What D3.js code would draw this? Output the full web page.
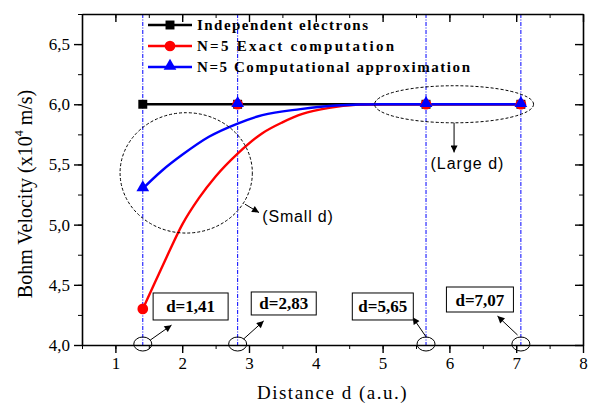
<!DOCTYPE html>
<html>
<head>
<meta charset="utf-8">
<script src="https://cdn.jsdelivr.net/npm/d3@7"></script>
<style>
  body { margin: 0; background: #fff; }
  svg text { fill: #000; }
</style>
</head>
<body>
<div id="chart"></div>
<script>
// Bohm velocity vs distance d, three series plus the four marked distances.

const marked = [1.41, 2.83, 5.65, 7.07];
const markedLabels = ['d=1,41', 'd=2,83', 'd=5,65', 'd=7,07'];

const independentV = [6.0, 6.0, 6.0, 6.0];
const exactV = [4.3, 6.0, 6.0, 6.0];
const approxV = [5.3, 6.0, 6.0, 6.0];

// smooth curves
const exactCurve = [
  [1.41, 4.30], [1.6, 4.53], [1.8, 4.77], [2.0, 5.00], [2.25, 5.22], [2.5, 5.40],
  [2.83, 5.59], [3.2, 5.76], [3.5, 5.85], [3.8, 5.92], [4.2, 5.97], [4.6, 5.995],
  [5.0, 6.0], [5.65, 6.0], [7.07, 6.0]
];
const approxCurve = [
  [1.41, 5.30], [1.7, 5.45], [2.0, 5.58], [2.4, 5.73], [2.83, 5.84], [3.2, 5.91],
  [3.77, 5.96], [4.3, 5.99], [5.0, 6.0], [5.65, 6.0], [7.07, 6.0]
];

const xTicks = [1, 2, 3, 4, 5, 6, 7, 8];
const yTicks = [4.0, 4.5, 5.0, 5.5, 6.0, 6.5];

const seriesNames = ['Independent electrons', 'N=5 Exact computation', 'N=5 Computational approximation'];

const width = 590;
const height = 404;
const margin = { top: 14, right: 7, bottom: 59, left: 82 };
const serif = '"Liberation Serif", "Times New Roman", serif';
const sans = '"Liberation Sans", Arial, sans-serif';

const svg = d3.select('#chart').append('svg').attr('width', width).attr('height', height);

const x = d3.scaleLinear().domain([0.5, 8]).range([margin.left, width - margin.right]);
const y = d3.scaleLinear().domain([4.0, 6.75]).range([height - margin.bottom, margin.top]);

const fmt = (d) => d3.format('.1f')(d).replace('.', ',');
const minorX = d3.range(0.5, 8.01, 0.5);
const minorY = d3.range(4.0, 6.76, 0.25);

// vertical markers at the chosen distances
svg
  .selectAll('line.marker-line')
  .data(marked)
  .join('line')
  .attr('x1', (d) => x(d))
  .attr('x2', (d) => x(d))
  .attr('y1', y(6.75))
  .attr('y2', y(4.0))
  .attr('stroke', '#0000ff')
  .attr('stroke-width', 1)
  .attr('stroke-dasharray', '4,1.5,1,1.5');

// axes: outward on bottom/left, inward on top/right
function styleAxis(g) {
  g.select('.domain').attr('stroke-width', 1.6);
  g.selectAll('.tick line').attr('stroke-width', 1.4);
  g.selectAll('text').attr('font-family', serif).attr('font-size', 17);
}

svg
  .append('g')
  .attr('transform', `translate(0,${y(4.0)})`)
  .call(d3.axisBottom(x).tickValues(minorX).tickSize(4).tickFormat(''))
  .call((g) => g.select('.domain').remove());
svg
  .append('g')
  .attr('transform', `translate(0,${y(4.0)})`)
  .call(d3.axisBottom(x).tickValues(xTicks).tickSize(8).tickPadding(4).tickFormat(d3.format('d')).tickSizeOuter(0))
  .call(styleAxis);

svg
  .append('g')
  .attr('transform', `translate(0,${y(6.75)})`)
  .call(d3.axisBottom(x).tickValues(minorX).tickSize(4).tickFormat(''))
  .call((g) => g.select('.domain').remove());
svg
  .append('g')
  .attr('transform', `translate(0,${y(6.75)})`)
  .call(d3.axisBottom(x).tickValues(xTicks).tickSize(8).tickFormat('').tickSizeOuter(0))
  .call(styleAxis);

svg
  .append('g')
  .attr('transform', `translate(${x(0.5)},0)`)
  .call(d3.axisLeft(y).tickValues(minorY).tickSize(4).tickFormat(''))
  .call((g) => g.select('.domain').remove());
svg
  .append('g')
  .attr('transform', `translate(${x(0.5)},0)`)
  .call(d3.axisLeft(y).tickValues(yTicks).tickSize(8).tickPadding(4).tickFormat(fmt).tickSizeOuter(0))
  .call(styleAxis);

svg
  .append('g')
  .attr('transform', `translate(${x(8)},0)`)
  .call(d3.axisLeft(y).tickValues(minorY).tickSize(4).tickFormat(''))
  .call((g) => g.select('.domain').remove());
svg
  .append('g')
  .attr('transform', `translate(${x(8)},0)`)
  .call(d3.axisLeft(y).tickValues(yTicks).tickSize(8).tickFormat('').tickSizeOuter(0))
  .call(styleAxis);

// axis titles
svg
  .append('text')
  .attr('x', (x(0.5) + x(8)) / 2)
  .attr('y', 399)
  .attr('text-anchor', 'middle')
  .attr('font-family', serif)
  .attr('font-size', 19)
  .attr('letter-spacing', 1.5)
  .text('Distance d (a.u.)');

const yTitle = svg
  .append('text')
  .attr('transform', `translate(32,194) rotate(-90)`)
  .attr('text-anchor', 'middle')
  .attr('font-family', serif)
  .attr('font-size', 20);
yTitle.append('tspan').text('Bohm Velocity (x10');
yTitle.append('tspan').attr('font-size', 12).attr('dy', -9).text('4');
yTitle.append('tspan').attr('dy', 9).text(' m/s)');

// series lines
const straight = d3.line().x((d) => x(d[0])).y((d) => y(d[1]));
const smooth = d3.line().x((d) => x(d[0])).y((d) => y(d[1])).curve(d3.curveMonotoneX);

svg
  .append('path')
  .datum(marked.map((d, i) => [d, independentV[i]]))
  .attr('fill', 'none')
  .attr('stroke', '#000')
  .attr('stroke-width', 2.4)
  .attr('d', straight);

svg
  .append('path')
  .datum(exactCurve)
  .attr('fill', 'none')
  .attr('stroke', '#ff0000')
  .attr('stroke-width', 2.4)
  .attr('d', smooth);

svg
  .append('path')
  .datum(approxCurve)
  .attr('fill', 'none')
  .attr('stroke', '#0000ff')
  .attr('stroke-width', 2.4)
  .attr('d', smooth);

// markers
const square = d3.symbol().type(d3.symbolSquare).size(80);
const circle = d3.symbol().type(d3.symbolCircle).size(90);
const triangle = d3.symbol().type(d3.symbolTriangle).size(70);

svg
  .selectAll('path.sq')
  .data(marked)
  .join('path')
  .attr('transform', (d, i) => `translate(${x(d)},${y(independentV[i])})`)
  .attr('d', square)
  .attr('fill', '#000');

svg
  .selectAll('path.ci')
  .data(marked)
  .join('path')
  .attr('transform', (d, i) => `translate(${x(d)},${y(exactV[i])})`)
  .attr('d', circle)
  .attr('fill', '#ff0000');

svg
  .selectAll('path.tr')
  .data(marked)
  .join('path')
  .attr('transform', (d, i) => `translate(${x(d)},${y(approxV[i]) - 1})`)
  .attr('d', triangle)
  .attr('fill', '#0000ff');

// legend
const legendColours = ['#000', '#ff0000', '#0000ff'];
const legendSymbols = [square, circle, triangle];
const legendWidths = [171, 197, 273];
const legend = svg.append('g');
seriesNames.forEach((name, i) => {
  const ly = 25 + i * 21;
  legend.append('line').attr('x1', 148).attr('x2', 192).attr('y1', ly).attr('y2', ly)
    .attr('stroke', legendColours[i]).attr('stroke-width', 2.4);
  legend.append('path').attr('transform', `translate(170,${ly - (i === 2 ? 1 : 0)})`)
    .attr('d', legendSymbols[i]).attr('fill', legendColours[i]);
  legend.append('text').attr('x', 197).attr('y', ly + 5)
    .attr('font-family', serif).attr('font-size', 15).attr('font-weight', 'bold')
    .attr('textLength', legendWidths[i]).attr('lengthAdjust', 'spacing')
    .text(name);
});

// annotations
const dashed = (sel) => sel.attr('fill', 'none').attr('stroke', '#000').attr('stroke-width', 1).attr('stroke-dasharray', '3,2');

svg.append('ellipse')
  .attr('cx', x(2.06)).attr('cy', y(5.43))
  .attr('rx', x(2.06) - x(1.07)).attr('ry', y(5.43) - y(5.93))
  .call(dashed);

svg.append('ellipse')
  .attr('cx', x(6.07)).attr('cy', y(6.0))
  .attr('rx', x(6.07) - x(4.88)).attr('ry', y(6.0) - y(6.154))
  .call(dashed);

svg.append('defs').append('marker')
  .attr('id', 'head').attr('viewBox', '0 0 10 10').attr('refX', 10).attr('refY', 5)
  .attr('markerWidth', 9).attr('markerHeight', 7).attr('markerUnits', 'userSpaceOnUse')
  .attr('orient', 'auto')
  .append('path').attr('d', 'M0,0 L10,5 L0,10 Z').attr('fill', '#000');

const arrow = (x1, y1, x2, y2) =>
  svg.append('line')
    .attr('x1', x(x1)).attr('y1', y(y1)).attr('x2', x(x2)).attr('y2', y(y2))
    .attr('stroke', '#000').attr('stroke-width', 1).attr('marker-end', 'url(#head)');

arrow(2.94, 5.17, 3.15, 5.10);
arrow(6.07, 5.846, 6.07, 5.6);

svg.append('text').attr('x', x(3.2)).attr('y', y(5.02))
  .attr('font-family', sans).attr('font-size', 16).attr('letter-spacing', 0.8)
  .text('(Small d)');
svg.append('text').attr('x', x(6.27)).attr('y', y(5.462)).attr('text-anchor', 'middle')
  .attr('font-family', sans).attr('font-size', 16).attr('letter-spacing', 1)
  .text('(Large d)');

// small circles at the axis, arrows and label boxes
const boxes = [
  { d: 2.126, v: 4.32, w: 75, h: 27, from: [1.52, 4.04], to: [1.84, 4.165] },
  { d: 3.52, v: 4.345, w: 65, h: 23, from: [2.92, 4.05], to: [3.22, 4.2] },
  { d: 5.003, v: 4.32, w: 61, h: 27, from: [5.65, 4.068], to: [5.45, 4.23] },
  { d: 6.457, v: 4.378, w: 67, h: 25, from: [7.02, 4.083], to: [6.72, 4.24] }
];

svg.selectAll('ellipse.foot')
  .data(marked)
  .join('ellipse')
  .attr('cx', (d) => x(d)).attr('cy', y(4.0) - 1)
  .attr('rx', 9).attr('ry', 7)
  .attr('fill', 'none').attr('stroke', '#000').attr('stroke-width', 1);

boxes.forEach((b, i) => {
  arrow(b.from[0], b.from[1], b.to[0], b.to[1]);
  svg.append('rect')
    .attr('x', x(b.d) - b.w / 2).attr('y', y(b.v) - b.h / 2)
    .attr('width', b.w).attr('height', b.h)
    .attr('fill', '#fff').attr('stroke', '#000').attr('stroke-width', 1);
  svg.append('text')
    .attr('x', x(b.d)).attr('y', y(b.v) + 6)
    .attr('text-anchor', 'middle')
    .attr('font-family', serif).attr('font-size', 17).attr('font-weight', 'bold')
    .text(markedLabels[i]);
});
</script>
</body>
</html>
